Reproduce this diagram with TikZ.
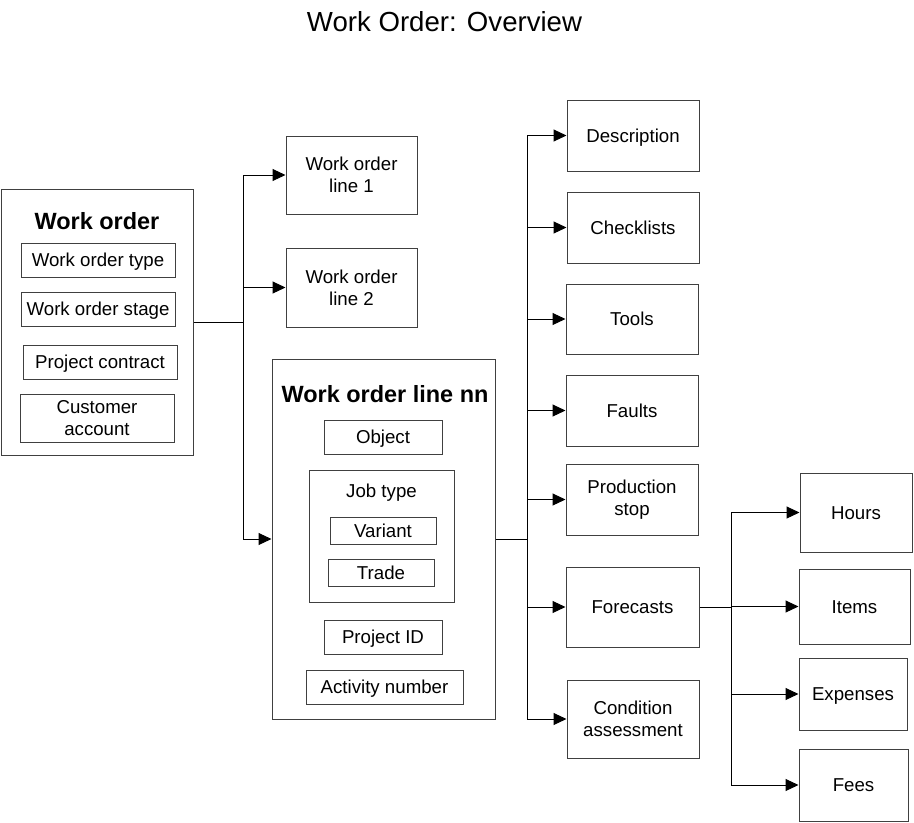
\documentclass[tikz,border=0pt]{standalone}
\usepackage{fontspec}
\setmainfont{Liberation Sans}
\usetikzlibrary{arrows.meta}
\definecolor{boxline}{RGB}{64,64,64}
\begin{document}
\begin{tikzpicture}[x=0.75pt,y=-0.75pt,
  box/.style={draw=boxline,line width=0.75pt,inner sep=0pt,align=center,
    font=\fontsize{14}{16.5}\selectfont},
  one/.style={text height=10pt,text depth=0pt},
  lbl/.style={inner sep=0pt,align=center,font=\fontsize{14}{16.5}\selectfont},
  big/.style={inner sep=0pt,font=\fontsize{17.6}{20}\selectfont\bfseries},
  conn/.style={line width=0.75pt,black},
  arr/.style={conn,-{Triangle[length=9.75pt,width=9pt]}}]
\useasboundingbox (0,0) rectangle (914,822);
\node[inner sep=0pt,font=\fontsize{20.7}{24}\selectfont] (title) at (444.5,22) {Work Order: Overview};

% Work order
\node[box,minimum width=144pt,minimum height=199.5pt] (wo) at (97,322) {};
\node[big] (wot) at (97,221) {Work order};
\node[box,one,minimum width=115.5pt,minimum height=25.5pt] (wotype) at (98,260) {Work order type};
\node[box,one,minimum width=115.5pt,minimum height=25.5pt] (wostage) at (98,309) {Work order stage};
\node[box,one,minimum width=115.5pt,minimum height=25.5pt] (wocontract) at (100,362) {Project contract};
\node[box,minimum width=115.5pt,minimum height=36pt] (wocust) at (97,418) {Customer\\account};

% Work order lines
\node[box,minimum width=98.25pt,minimum height=58.5pt] (wol1) at (351.5,175) {Work order\\line 1};
\node[box,minimum width=98.25pt,minimum height=59.25pt] (wol2) at (351.5,287.5) {Work order\\line 2};
\node[box,minimum width=167.25pt,minimum height=270pt] (woln) at (383.5,539) {};
\node[big] (wolnt) at (385,394) {Work order line nn};
\node[box,one,minimum width=88.5pt,minimum height=25.5pt] (object) at (383,437) {Object};
\node[box,minimum width=108.75pt,minimum height=99pt] (jobtype) at (381.5,536) {};
\node[lbl,one] (jobtypet) at (381.5,491) {Job type};
\node[box,one,minimum width=79.5pt,minimum height=20.25pt] (variant) at (383,530.5) {Variant};
\node[box,one,minimum width=79.5pt,minimum height=20.25pt] (trade) at (381,572.5) {Trade};
\node[box,one,minimum width=88.5pt,minimum height=25.5pt] (projid) at (383,637) {Project ID};
\node[box,one,minimum width=117.75pt,minimum height=25.5pt] (activity) at (384.5,687) {Activity number};

% Line details
\node[box,one,minimum width=99pt,minimum height=53.25pt] (desc) at (633,135.5) {Description};
\node[box,one,minimum width=99pt,minimum height=53.25pt] (check) at (633,227.5) {Checklists};
\node[box,one,minimum width=99pt,minimum height=52.5pt] (tools) at (632,319) {Tools};
\node[box,one,minimum width=99pt,minimum height=53.25pt] (faults) at (632,410.5) {Faults};
\node[box,minimum width=99pt,minimum height=53.25pt] (prod) at (632,499.5) {Production\\stop};
\node[box,one,minimum width=99.75pt,minimum height=60pt] (fore) at (632.5,607) {Forecasts};
\node[box,minimum width=99pt,minimum height=58.5pt] (cond) at (633,719) {Condition\\assessment};

% Forecast details
\node[box,one,minimum width=84pt,minimum height=59.25pt] (hours) at (856,512.5) {Hours};
\node[box,one,minimum width=83.25pt,minimum height=56.25pt] (items) at (854.5,606.5) {Items};
\node[box,one,minimum width=81pt,minimum height=54pt] (exp) at (853,694) {Expenses};
\node[box,one,minimum width=81.75pt,minimum height=54pt] (fees) at (853.5,785) {Fees};

% Connectors
\coordinate (j1) at (243,322);
\draw[conn] (wo.east |- j1) -- (j1);
\draw[arr] (j1) |- (wol1.west);
\draw[arr] (j1) |- (wol2.west);
\draw[arr] (j1) |- (woln.west);

\coordinate (j2) at (527,539);
\draw[conn] (woln.east |- j2) -- (j2);
\foreach \n in {desc,check,tools,faults,prod,fore,cond}
  \draw[arr] (j2) |- (\n.west);

\coordinate (j3) at (731,607);
\draw[conn] (fore.east |- j3) -- (j3);
\foreach \n in {hours,items,exp,fees}
  \draw[arr] (j3) |- (\n.west);
\end{tikzpicture}
\end{document}
